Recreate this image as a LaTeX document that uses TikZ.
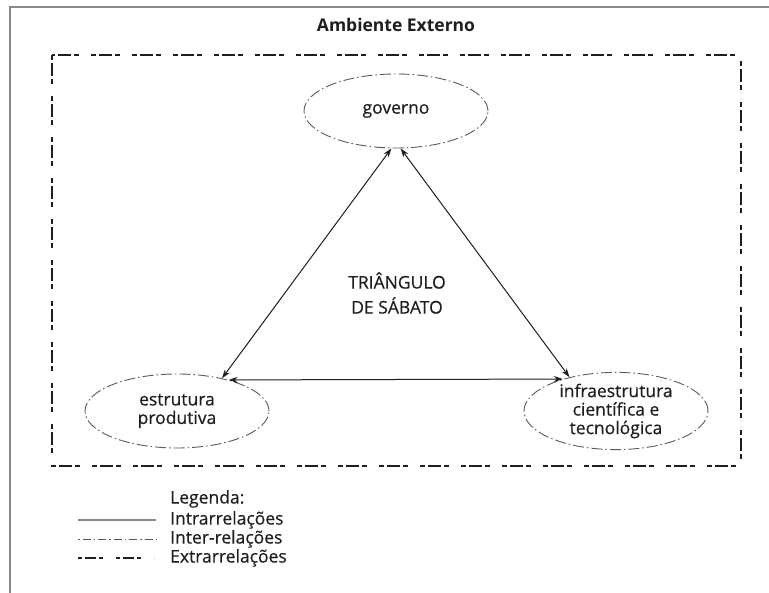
\documentclass[tikz,border=0pt]{standalone}
\usepackage{fontspec}
\setmainfont{Open Sans}
\newfontfamily\txtfont{Open Sans}[FakeBold=0.4]
\usetikzlibrary{shapes.geometric,arrows.meta}
\definecolor{txt}{HTML}{1E1E1E}
\definecolor{framegray}{HTML}{8A8A8A}
\definecolor{ellgray}{HTML}{5A5A5A}
\tikzset{
  txtnode/.style={text=txt,inner sep=0pt,font=\txtfont\fontsize{17.5}{18.5}\selectfont},
  actor/.style={ellipse,draw=ellgray,line width=0.9pt,dash pattern=on 11pt off 3pt on 1.5pt off 3pt,
    minimum width=184pt,minimum height=74pt,inner sep=0pt,align=center,text=txt,
    font=\txtfont\fontsize{17.5}{18.5}\selectfont},
  extra/.style={draw=txt,line width=2pt,dash pattern=on 5pt off 3pt on 13pt off 3pt on 5pt off 12pt},
  inter/.style={draw=ellgray,line width=0.8pt,dash pattern=on 1.5pt off 3pt on 8pt off 3pt},
  intra/.style={draw=framegray,line width=1.2pt},
  rel/.style={draw=txt,line width=1pt,{Stealth[length=9pt,width=6pt]}-{Stealth[length=9pt,width=6pt]}},
}
\begin{document}
\begin{tikzpicture}[x=1pt,y=-1pt]
\useasboundingbox (0,0) rectangle (769,593);
\fill[white] (0,0) rectangle (769,593);
% outer frame (clipped by the page)
\draw[framegray,line width=1.5pt] (10,600) -- (10,7) -- (780,7);
% title
\node[text=txt,inner sep=0pt,font=\fontsize{17.5}{18.5}\selectfont\bfseries] (title) at (396,25) {Ambiente Externo};
% inner environment box
\draw[extra] (52,55) rectangle (741,466);
% actors
\node[actor] (gov) at (396,111) {governo};
\node[actor] (est) at (177,411) {estrutura\\produtiva};
\node[actor] (inf) at (616,411) {infraestrutura\\científica e\\tecnológica};
% center label
\node[txtnode,align=center,font=\txtfont\fontsize{17.5}{25}\selectfont] (tri) at (397,293) {TRIÂNGULO\\DE SÁBATO};
% relations
\draw[rel] (gov.263) -- (est.36);
\draw[rel] (gov.277) -- (inf.144);
\draw[rel] (est.31) -- (inf.149);
% legend
\node[txtnode,anchor=west] (leg) at (170,499) {Legenda:};
\node[txtnode,anchor=west] (l1) at (170,520) {Intrarrelações};
\node[txtnode,anchor=west] (l2) at (170,539) {Inter-relações};
\node[txtnode,anchor=west] (l3) at (170,558) {Extrarrelações};
\coordinate (a1) at (78,520);
\coordinate (a2) at (78,539);
\coordinate (a3) at (78,558);
\draw[intra] (a1) -- ++(78,0);
\draw[inter] (a2) -- ++(78,0);
\draw[extra,line width=1.8pt,dash pattern=on 4pt off 3pt on 11pt off 3pt on 4pt off 13pt] (a3) -- ++(76,0);
\end{tikzpicture}
\end{document}
